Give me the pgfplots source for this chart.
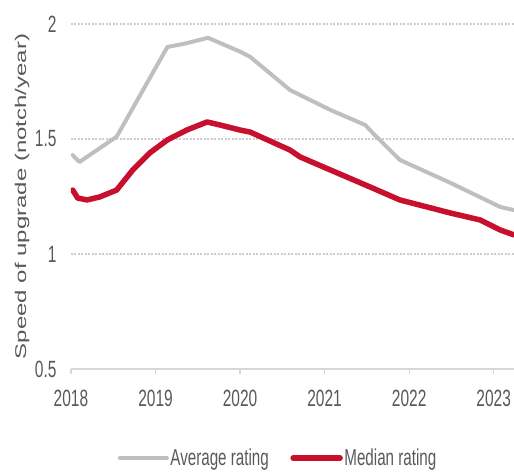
\documentclass[border=0pt]{standalone}
\usepackage{pgfplots}
\pgfplotsset{compat=1.18}
\usepackage{fontspec}
\usepackage{graphicx}
\setmainfont{Liberation Sans}
\newfontfamily\narrowfont{Liberation Sans}[FakeStretch=0.66]
\definecolor{avggray}{RGB}{191,191,191}
\definecolor{medred}{RGB}{200,16,46}
\definecolor{labelgray}{RGB}{89,89,89}
\definecolor{gridgray}{RGB}{205,205,205}
\definecolor{axisgray}{RGB}{215,215,215}

\begin{document}
\begin{tikzpicture}
\begin{axis}[
  name=ax,
  scale only axis, width=443pt, height=345pt,
  xmin=2018, xmax=2023.24, ymin=0.5, ymax=2,
  clip=true,
  axis x line*=bottom, axis y line*=left,
  x axis line style={draw=axisgray, line width=1.5pt},
  y axis line style={draw=none},
  xtick={2018,2019,2020,2021,2022,2023},
  ytick={0.5,1,1.5,2},
  xticklabels={2018,2019,2020,2021,2022,2023},
  yticklabels={0.5,1,1.5,2},
  xtick style={draw=axisgray, line width=1.2pt},
  ytick style={draw=none},
  tick align=outside, major tick length=5pt,
  ymajorgrids,
  grid style={draw=gridgray, dash pattern=on 2pt off 1.5pt, line width=1.2pt},
  tick label style={font=\narrowfont\fontsize{23.5}{23.5}\selectfont, text=labelgray},
  xticklabel style={yshift=-13pt},
  yticklabel style={xshift=-6pt},
  ylabel={\scalebox{1}[0.65]{Speed of upgrade (notch/year)}},
  ylabel style={font=\fontsize{24}{24}\selectfont, text=labelgray,
    at={(axis description cs:-0.1106,0.5)}, anchor=center},
  legend columns=2,
  legend style={draw=none, fill=none,
    at={(axis description cs:0.467,-0.258)}, anchor=center,
    font=\narrowfont\fontsize{23}{23}\selectfont, text=labelgray,
    /tikz/every even column/.append style={column sep=20pt},
    nodes={inner sep=1.5pt}},
  legend image code/.code={\draw[#1] (0pt,0pt) -- (47pt,0pt);},
]
% average rating
\addplot[avggray, line width=4pt, line join=round, line cap=round] coordinates {
  (2018.02,1.43) (2018.10,1.40) (2018.30,1.45) (2018.54,1.51)
  (2019.14,1.90) (2019.35,1.915) (2019.62,1.94) (2020.00,1.88)
  (2020.12,1.857) (2020.59,1.713) (2021.07,1.626) (2021.48,1.561)
  (2021.57,1.526) (2021.89,1.409) (2022.49,1.309) (2023.08,1.204)
  (2023.24,1.191)
};
\addlegendentry{Average rating}
% median rating
\addplot[medred, line width=5.5pt, line join=round, line cap=round] coordinates {
  (2018.02,1.278) (2018.08,1.243) (2018.19,1.235) (2018.34,1.248)
  (2018.54,1.278) (2018.73,1.365) (2018.93,1.439) (2019.14,1.496)
  (2019.37,1.539) (2019.61,1.574) (2019.76,1.561) (2020.00,1.539)
  (2020.12,1.530) (2020.59,1.452) (2020.71,1.422) (2021.07,1.365)
  (2021.54,1.291) (2021.89,1.235) (2022.49,1.178) (2022.84,1.148)
  (2023.08,1.104) (2023.24,1.083)
};
\addlegendentry{Median rating}
\end{axis}
\pgfresetboundingbox
\path ([shift={(-71pt,-104pt)}]ax.south west) rectangle ([shift={(0pt,24pt)}]ax.north east);
\end{tikzpicture}
\end{document}
